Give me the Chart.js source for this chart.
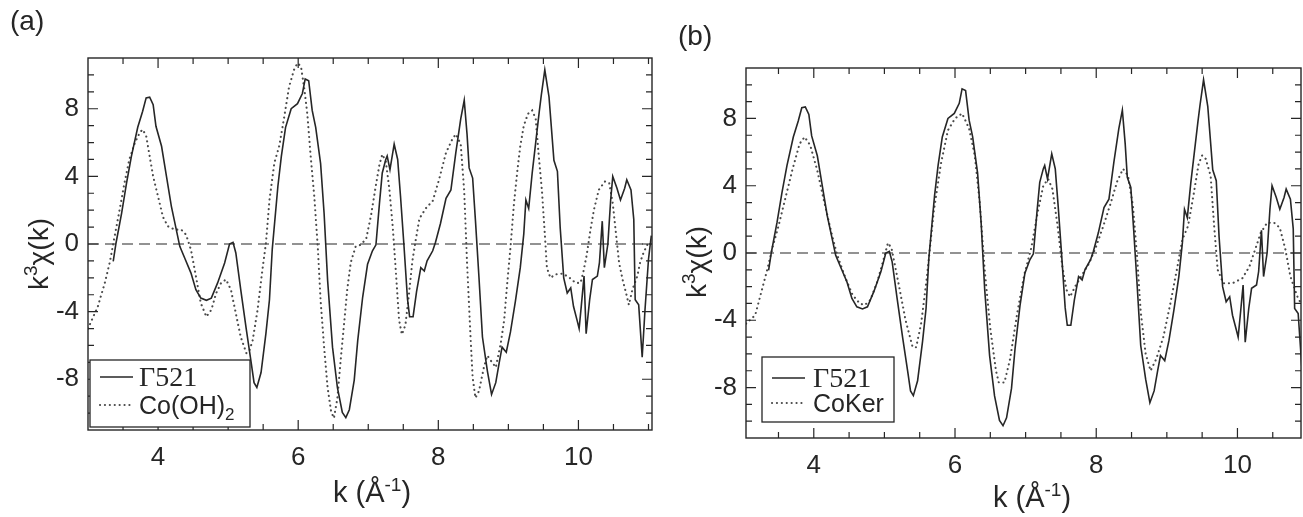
<!DOCTYPE html>
<html><head><meta charset="utf-8">
<script src="https://cdn.jsdelivr.net/npm/chart.js@4/dist/chart.umd.min.js"></script>
<style>
html,body{margin:0;padding:0;background:#fff;}
body{width:1303px;height:517px;position:relative;overflow:hidden;}
canvas{position:absolute;top:0;}
#ca{left:0;} #cb{left:660px;}
</style></head><body>
<canvas id="ca" width="660" height="517"></canvas>
<canvas id="cb" width="643" height="517"></canvas>
<script>
// ---- data ----
const seriesNames = ['Γ521', 'Co(OH)2', 'CoKer'];
const xTicks = [4, 6, 8, 10];
const yTicks = [-8, -4, 0, 4, 8];

const kGamma = [3.36,3.40,3.48,3.55,3.62,3.71,3.78,3.83,3.88,3.93,
3.97,4.05,4.12,4.19,4.26,4.31,4.38,4.47,4.54,4.61,
4.69,4.76,4.85,4.95,5.02,5.07,5.11,5.18,5.26,5.33,
5.37,5.41,5.47,5.54,5.59,5.63,5.71,5.76,5.82,5.90,
5.99,6.06,6.10,6.15,6.20,6.25,6.32,6.37,6.42,6.49,
6.56,6.63,6.68,6.73,6.80,6.85,6.92,6.99,7.06,7.11,
7.16,7.20,7.25,7.27,7.31,7.37,7.42,7.46,7.51,7.56,
7.59,7.64,7.69,7.75,7.80,7.84,7.92,7.96,8.03,8.11,
8.18,8.25,8.32,8.37,8.41,8.44,8.49,8.53,8.58,8.63,
8.70,8.76,8.82,8.87,8.91,8.97,9.03,9.10,9.17,9.22,
9.25,9.29,9.34,9.39,9.44,9.47,9.52,9.58,9.65,9.70,
9.74,9.79,9.84,9.89,9.93,9.98,10.01,10.04,10.08,10.11,
10.16,10.20,10.27,10.30,10.34,10.37,10.42,10.46,10.49,10.55,
10.60,10.66,10.69,10.75,10.79,10.81,10.86,10.91,10.95,11.00,
11.04];
const chiGamma = [-1.03,0.06,1.83,3.6,5.2,6.9,7.85,8.64,8.68,8.24,
6.96,5.78,4.0,2.23,0.85,-0.14,-0.83,-1.72,-2.7,-3.2,
-3.33,-3.2,-2.3,-1.12,0,0.1,-0.53,-2.7,-5.07,-7.04,
-8.2,-8.48,-7.6,-5.27,-3.3,-0.3,3.4,5.2,6.9,8.0,
8.3,8.9,9.76,9.66,7.9,6.9,4.75,1.8,-2.15,-6.1,
-8.5,-9.96,-10.27,-9.8,-8.05,-5.7,-3.15,-1.2,-0.4,-0.05,
2.4,4.2,5.0,5.2,4.4,5.9,5.0,2.85,-0.1,-3.25,
-4.3,-4.3,-2.8,-1.4,-1.6,-1.0,-0.4,0.1,1.2,2.7,
3.2,5.4,7.4,8.5,6.5,4.5,3.9,1.4,-1.95,-5.5,
-7.5,-8.9,-8.2,-7.0,-6.1,-6.4,-5.2,-3.4,-1.4,0.6,
2.6,2.1,4.2,6.0,7.8,8.8,10.3,8.7,4.95,4.3,
0.95,-2.0,-2.9,-2.6,-3.7,-4.5,-5.0,-3.7,-1.9,-5.3,
-3.3,-2.1,-1.9,-1.1,1.35,-1.4,0.0,2.6,4.0,3.3,
2.6,3.3,3.8,3.2,1.45,-3.3,-3.6,-6.7,-3.9,-0.9,
0.5];

const kCoOH = [3.00,3.14,3.24,3.31,3.38,3.45,3.52,3.59,3.67,3.74,
3.78,3.83,3.88,3.93,4.00,4.07,4.14,4.24,4.33,4.40,
4.47,4.54,4.61,4.69,4.76,4.83,4.90,4.97,5.04,5.11,
5.18,5.26,5.30,5.35,5.42,5.49,5.54,5.59,5.66,5.73,
5.80,5.87,5.94,5.99,6.04,6.09,6.13,6.18,6.23,6.28,
6.32,6.37,6.42,6.47,6.51,6.56,6.61,6.66,6.70,6.75,
6.82,6.89,6.97,7.04,7.11,7.16,7.20,7.25,7.30,7.35,
7.40,7.44,7.48,7.53,7.58,7.63,7.68,7.73,7.82,7.92,
8.01,8.11,8.20,8.25,8.32,8.37,8.41,8.46,8.49,8.53,
8.58,8.65,8.70,8.75,8.82,8.89,8.94,8.98,9.03,9.08,
9.13,9.17,9.22,9.28,9.34,9.39,9.43,9.48,9.52,9.55,
9.60,9.67,9.77,9.86,9.96,10.03,10.07,10.12,10.17,10.22,
10.29,10.38,10.44,10.49,10.54,10.58,10.63,10.68,10.72,10.77,
10.84,10.88,10.93,11.00];
const chiCoOH = [-5.0,-3.7,-2.3,-1.1,0.45,2.0,3.6,5.0,6.0,6.6,
6.77,6.4,5.2,4.0,2.8,1.6,1.05,0.85,0.85,0.55,
-0.35,-1.9,-3.5,-4.3,-3.9,-2.9,-2.3,-2.1,-2.7,-4.1,
-5.5,-6.45,-6.35,-5.7,-3.9,-1.5,0.06,2.6,4.8,5.8,
7.5,9.3,10.3,10.7,10.5,9.1,7.7,5.1,2.8,-0.2,
-3.35,-6.1,-8.5,-9.9,-10.3,-9.1,-6.7,-4.5,-2.7,-1.1,
-0.15,-0.05,0.3,1.7,3.5,4.7,5.3,4.9,3.3,1.0,
-2.0,-4.5,-5.35,-4.8,-3.0,-1.0,0.3,1.5,2.1,2.55,
3.8,5.4,6.2,6.5,5.9,3.1,-1.1,-5.5,-7.9,-9.1,
-8.7,-7.3,-6.6,-6.9,-7.3,-5.9,-4.5,-2.5,-0.2,2.4,
4.4,5.8,7.0,7.7,7.9,7.4,5.4,3.1,0.6,-1.4,
-2.0,-1.8,-1.75,-1.95,-2.3,-2.3,-1.65,-0.6,0.8,2.0,
3.2,3.7,3.6,2.4,0.45,-1.1,-2.1,-2.9,-3.6,-2.7,
-1.9,-1.1,-0.5,0.1];

const kCoKer = [3.04,3.17,3.34,3.42,3.50,3.60,3.70,3.80,3.87,3.95,
4.05,4.15,4.25,4.33,4.45,4.55,4.65,4.72,4.80,4.90,
5.00,5.05,5.10,5.20,5.30,5.40,5.45,5.52,5.60,5.70,
5.80,5.90,6.00,6.10,6.20,6.28,6.35,6.42,6.50,6.58,
6.62,6.70,6.78,6.88,6.98,7.08,7.17,7.25,7.32,7.38,
7.45,7.52,7.58,7.63,7.70,7.80,7.90,8.00,8.10,8.20,
8.30,8.38,8.45,8.52,8.58,8.63,8.70,8.77,8.85,8.95,
9.05,9.15,9.22,9.30,9.38,9.45,9.50,9.55,9.62,9.67,
9.72,9.80,9.93,10.07,10.17,10.25,10.33,10.42,10.52,10.60,
10.68,10.75,10.85,10.90];
const chiCoKer = [-4.2,-3.7,-1.0,0.4,1.6,3.3,5.0,6.5,6.9,6.4,
4.9,3.0,1.2,-0.1,-1.5,-2.5,-3.0,-3.1,-2.8,-1.7,
-0.2,0.6,0.3,-1.8,-4.0,-5.6,-5.6,-4.2,-1.5,2.5,
5.3,7.3,8.0,8.3,7.4,5.8,3.0,-1.0,-4.5,-7.0,
-7.7,-7.7,-6.3,-3.6,-1.3,0.3,2.4,4.0,4.4,3.8,
1.7,-0.8,-2.2,-2.6,-2.0,-1.3,-0.6,0.4,1.6,2.9,
4.3,5.0,4.6,2.8,-0.3,-3.5,-6.0,-7.0,-6.3,-5.0,
-3.0,-0.8,0.8,1.6,3.5,5.3,5.8,5.6,4.6,1.6,
-1.0,-1.8,-1.8,-1.5,-0.8,0.2,1.2,1.8,1.8,1.5,
0.2,-1.4,-2.6,-3.0];

// ---- helpers ----
const FONT = '"Liberation Sans", Arial, sans-serif';
const SERIF = '"Liberation Serif", "Times New Roman", serif';
const INK = '#262626';
const pts = (ks, vs) => ks.map((k, i) => ({x: k, y: vs[i]}));

function drawRich(ctx, parts, x, yBase, align) {
  let w = 0;
  parts.forEach(p => { ctx.font = `${p.size}px ${p.family || FONT}`; p.w = ctx.measureText(p.t).width; w += p.w; });
  let cx = align === 'center' ? x - w / 2 : (align === 'right' ? x - w : x);
  ctx.textAlign = 'left'; ctx.textBaseline = 'alphabetic';
  parts.forEach(p => { ctx.font = `${p.size}px ${p.family || FONT}`; ctx.fillText(p.t, cx, yBase + (p.dy || 0)); cx += p.w; });
}

const framePlugin = {
  id: 'frame',
  afterDatasetsDraw(chart) {
    const {ctx, chartArea: a, scales: {x, y}} = chart;
    ctx.save();
    ctx.strokeStyle = INK; ctx.lineWidth = 1.4;
    ctx.strokeRect(a.left, a.top, a.right - a.left, a.bottom - a.top);
    ctx.lineWidth = 1.2;
    ctx.beginPath();
    for (let v = Math.ceil(x.min * 2) / 2; v <= x.max + 1e-9; v += 0.5) {
      const px = x.getPixelForValue(v);
      if (px <= a.left + 2 || px >= a.right - 2) continue;
      const len = xTicks.includes(v) ? 10 : 6;
      ctx.moveTo(px, a.bottom); ctx.lineTo(px, a.bottom - len);
      ctx.moveTo(px, a.top); ctx.lineTo(px, a.top + len);
    }
    for (let v = Math.ceil(y.min); v <= y.max + 1e-9; v += 1) {
      const py = y.getPixelForValue(v);
      if (py <= a.top + 2 || py >= a.bottom - 2) continue;
      const len = yTicks.includes(v) ? 10 : 6;
      ctx.moveTo(a.left, py); ctx.lineTo(a.left + len, py);
      ctx.moveTo(a.right, py); ctx.lineTo(a.right - len, py);
    }
    ctx.stroke();

    const o = chart.options.plugins.decor;
    // legend box
    const bx = a.left + o.legend.dx, by = a.bottom - o.legend.dy - o.legend.h;
    ctx.fillStyle = '#fff';
    ctx.fillRect(bx, by, o.legend.w, o.legend.h);
    ctx.strokeStyle = INK; ctx.lineWidth = 1.3;
    ctx.strokeRect(bx, by, o.legend.w, o.legend.h);
    ctx.fillStyle = INK;
    o.legend.rows.forEach((r, i) => {
      const ds = chart.data.datasets[i];
      const ry = by + r.y;
      ctx.save();
      ctx.strokeStyle = ds.borderColor; ctx.lineWidth = ds.borderWidth;
      ctx.lineCap = ds.borderCapStyle || 'butt';
      ctx.setLineDash(ds.borderDash || []);
      ctx.beginPath(); ctx.moveTo(bx + 10, ry); ctx.lineTo(bx + 43, ry); ctx.stroke();
      ctx.restore();
      drawRich(ctx, r.parts, bx + o.legend.tx, ry + 9, 'left');
    });
    // panel label
    drawRich(ctx, [{t: o.panel, size: 28}], o.panelX, o.panelY, 'left');
    // x title
    drawRich(ctx, [{t: 'k (Å', size: 29}, {t: '-1', size: 19, dy: -11}, {t: ')', size: 29}], o.xTitleX, o.xTitleY, 'center');
    // y title
    ctx.save();
    ctx.translate(o.yTitleX, o.yTitleY);
    ctx.rotate(-Math.PI / 2);
    drawRich(ctx, [{t: 'k', size: 28}, {t: '3', size: 19, dy: -11}, {t: 'χ(k)', size: 28}], 0, 10, 'center');
    ctx.restore();
    ctx.restore();
  }
};

function makeChart(id, refK, refV, refName, cfg) {
  const solid = {label: seriesNames[0], data: pts(kGamma, chiGamma), borderColor: INK, borderWidth: 1.6,
    pointRadius: 0, tension: 0, fill: false};
  const dotted = {label: refName, data: pts(refK, refV), borderColor: '#4a4a4a', borderWidth: 2.1,
    borderDash: [0.1, 4.8], borderCapStyle: 'round', pointRadius: 0, tension: 0, fill: false};
  const zero = {label: 'zero', data: [{x: cfg.xmin, y: 0}, {x: cfg.xmax, y: 0}], borderColor: INK,
    borderWidth: 1.2, borderDash: [11, 6], pointRadius: 0, fill: false};
  return new Chart(document.getElementById(id), {
    type: 'line',
    data: {datasets: [solid, dotted, zero]},
    options: {
      responsive: false, animation: false, events: [],
      layout: {padding: {top: cfg.top, right: cfg.right, left: 0, bottom: 0}},
      plugins: {legend: {display: false}, tooltip: {enabled: false}, decor: cfg.decor},
      scales: {
        x: {type: 'linear', min: cfg.xmin, max: cfg.xmax,
          afterBuildTicks: s => { s.ticks = xTicks.map(v => ({value: v})); },
          afterFit: s => { s.height = cfg.xh; },
          grid: {display: false, drawTicks: false}, border: {display: false},
          ticks: {font: {family: FONT, size: 26}, color: INK, padding: 12, maxRotation: 0, autoSkip: false}},
        y: {type: 'linear', min: -11, max: 11,
          afterBuildTicks: s => { s.ticks = yTicks.map(v => ({value: v})); },
          afterFit: s => { s.width = cfg.yw; },
          grid: {display: false, drawTicks: false}, border: {display: false},
          ticks: {font: {family: FONT, size: 26}, color: INK, padding: 9}}
      }
    },
    plugins: [framePlugin]
  });
}

makeChart('ca', kCoOH, chiCoOH, seriesNames[1], {
  xmin: 3.0, xmax: 11.05, top: 58, right: 8, xh: 87, yw: 88,
  decor: {panel: '(a)', panelX: 10, panelY: 30, xTitleX: 372, xTitleY: 502, yTitleX: 38, yTitleY: 254,
    legend: {dx: 2, dy: 3, w: 160, h: 67, tx: 49, rows: [
      {y: 17, parts: [{t: 'Γ521', size: 28, family: SERIF}]},
      {y: 45, parts: [{t: 'Co(OH)', size: 25}, {t: '2', size: 17, dy: 6}]}
    ]}}
});
makeChart('cb', kCoKer, chiCoKer, seriesNames[2], {
  xmin: 3.04, xmax: 10.9, top: 68, right: 2, xh: 79, yw: 86,
  decor: {panel: '(b)', panelX: 18, panelY: 45, xTitleX: 372, xTitleY: 507, yTitleX: 36, yTitleY: 262,
    legend: {dx: 16, dy: 16, w: 132, h: 65, tx: 51, rows: [
      {y: 21, parts: [{t: 'Γ521', size: 28, family: SERIF}]},
      {y: 46, parts: [{t: 'CoKer', size: 25}]}
    ]}}
});
</script>
</body></html>
